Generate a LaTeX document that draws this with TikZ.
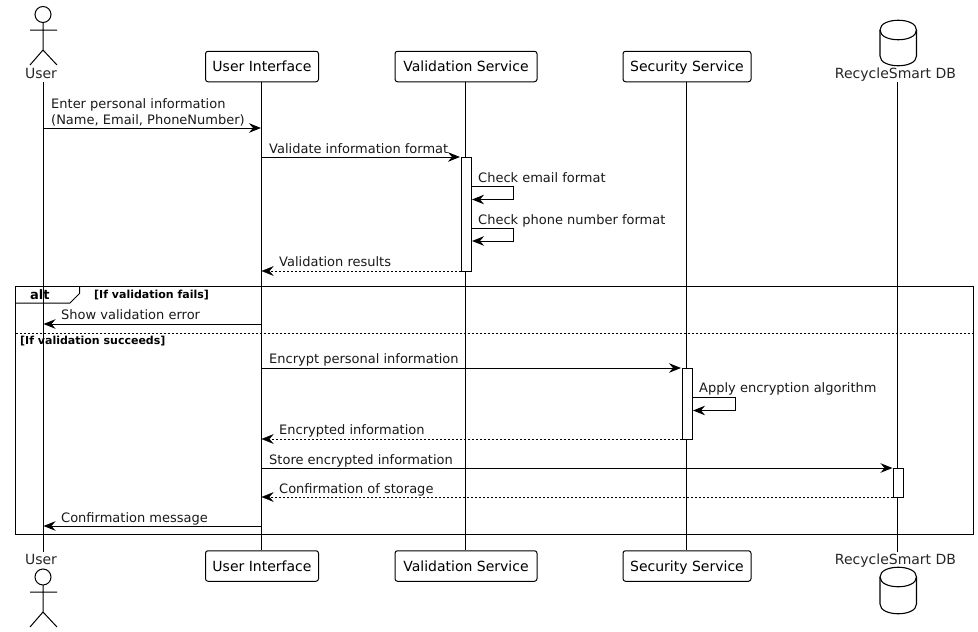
\documentclass[tikz,border=0pt]{standalone}
\usepackage{fontspec}
\setmainfont{DejaVu Sans}
\usetikzlibrary{arrows.meta,calc,positioning}
\tikzset{
  x=1pt,y=-1pt,
  base/.style={line width=1pt,draw=black},
  party/.style={base,rounded corners=2.5pt,fill=white,font=\fontsize{14}{16}\selectfont,inner sep=0pt,minimum height=30.5pt,text height=12pt,text depth=2pt,anchor=center},
  plabel/.style={font=\fontsize{14}{16}\selectfont,inner sep=0pt,text=black!85,anchor=base},
  msg/.style={font=\fontsize{13}{15}\selectfont,inner sep=0pt,anchor=base west,text=black!90},
  guard/.style={font=\fontsize{11}{13}\selectfont\bfseries,inner sep=0pt,anchor=base west},
  act/.style={base,fill=white,inner sep=0pt,minimum width=10pt},
  life/.style={base},
  call/.style={base,-{Stealth[length=12pt,width=9.5pt,inset=4pt]},shorten >=0.5pt},
  ret/.style={line width=.8pt,draw=black,dash pattern=on 2pt off 2pt,-{Stealth[length=12pt,width=9.5pt,inset=4pt,line width=.3pt]}},
}
\begin{document}
\begin{tikzpicture}
\useasboundingbox (0,0) rectangle (978,632);
% lifeline axes
\coordinate (ux) at (43,0);
\coordinate (ix) at (261.5,0);
\coordinate (vx) at (465,0);
\coordinate (sx) at (686.5,0);
\coordinate (dx) at (897.5,0);
\coordinate (lifeTop) at (0,82);
\coordinate (lifeBot) at (0,552);
% participants
\node[plabel] (userT) at (41,78.5) {User};
\node[plabel] (userB) at (41,564) {User};
\node[plabel] (dbT) at (895.5,78.5) {RecycleSmart DB};
\node[plabel] (dbB) at (895.5,564) {RecycleSmart DB};
\draw[life] (ux|-lifeTop) -- (ux|-lifeBot);
\draw[life] (dx|-lifeTop) -- (dx|-lifeBot);
\node[party,minimum width=113pt] (uiT) at (262,66.5) {User Interface};
\node[party,minimum width=113pt] (uiB) at (262,566) {User Interface};
\node[party,minimum width=142pt] (valT) at (466,66.5) {Validation Service};
\node[party,minimum width=142pt] (valB) at (466,566) {Validation Service};
\node[party,minimum width=128pt] (secT) at (687,66.5) {Security Service};
\node[party,minimum width=128pt] (secB) at (687,566) {Security Service};
\draw[life] (ix|-uiT.south) -- (ix|-uiB.north);
\draw[life] (vx|-valT.south) -- (vx|-valB.north);
\draw[life] (sx|-secT.south) -- (sx|-secB.north);
% actors
\draw[base] (43,14.5) circle[radius=8];
\draw[base] (43,22.5) -- (43,50) (30,30) -- (57,30) (30,65) -- (43,50) -- (57,65);
\draw[base] (43,577) circle[radius=8];
\draw[base] (43,585) -- (43,612) (30,592) -- (57,592) (30,627) -- (43,612) -- (57,627);
% databases
\draw[base,line width=1.1pt] (880,30) .. controls (880,17) and (916.5,17) .. (916.5,30)
  -- (916.5,56) .. controls (916.5,69) and (880,69) .. (880,56) -- cycle;
\draw[base,line width=1.1pt] (880,30) .. controls (880,43) and (916.5,43) .. (916.5,30);
\draw[base,line width=1.1pt] (880,577) .. controls (880,564) and (916.5,564) .. (916.5,577)
  -- (916.5,604) .. controls (916.5,617) and (880,617) .. (880,604) -- cycle;
\draw[base,line width=1.1pt] (880,577) .. controls (880,590) and (916.5,590) .. (916.5,577);
% frame
\draw[base] (15.5,286.5) rectangle (973,534.5);
\draw[base] (79.5,286.5) -- (79.5,293.5) -- (70,303) -- (15.5,303);
\draw[line width=.8pt,dash pattern=on 2pt off 2pt] (15.5,333) -- (973,333);
\node[font=\fontsize{13}{15}\selectfont\bfseries,inner sep=0pt,anchor=base west] (altL) at (30,299) {alt};
\node[guard] (g1) at (94,298) {[If validation fails]};
\node[guard] (g2) at (20,344) {[If validation succeeds]};
% activations
\node[act,minimum height=114pt] (a1) at (466,214) {};
\node[act,minimum height=71pt] (a2) at (687,403.5) {};
\node[act,minimum height=29pt] (a3) at (898.5,482.5) {};
% messages
\draw[call] (ux|-0,128) -- (ix|-0,128);
\node[msg] (m1a) at (51,108.5) {Enter personal information};
\node[msg] (m1b) at (51,124.5) {(Name, Email, PhoneNumber)};
\draw[call] (ix|-0,157) -- (a1.west|-0,157);
\node[msg] (m2) at (269,153.5) {Validate information format};
\draw[call] (a1.east|-0,186) -- (513.5,186) -- (513.5,199.5) -- (a1.east|-0,199.5);
\node[msg] (m3) at (478,182.5) {Check email format};
\draw[call] (a1.east|-0,228) -- (513.5,228) -- (513.5,241) -- (a1.east|-0,241);
\node[msg] (m4) at (478,224.5) {Check phone number format};
\draw[ret] (a1.west|-0,271) -- (ix|-0,271);
\node[msg] (m5) at (279,266.5) {Validation results};
\draw[call] (ix|-0,324) -- (ux|-0,324);
\node[msg] (m6) at (61,319.5) {Show validation error};
\draw[call] (ix|-0,368) -- (a2.west|-0,368);
\node[msg] (m7) at (269,363.5) {Encrypt personal information};
\draw[call] (a2.east|-0,397) -- (735,397) -- (735,410.5) -- (a2.east|-0,410.5);
\node[msg] (m8) at (699,392.5) {Apply encryption algorithm};
\draw[ret] (a2.west|-0,439) -- (ix|-0,439);
\node[msg] (m9) at (279,434.5) {Encrypted information};
\draw[call] (ix|-0,468) -- (a3.west|-0,468);
\node[msg] (m10) at (269,464.5) {Store encrypted information};
\draw[ret] (a3.west|-0,497) -- (ix|-0,497);
\node[msg] (m11) at (279,493.5) {Confirmation of storage};
\draw[call] (ix|-0,526) -- (ux|-0,526);
\node[msg] (m12) at (61,522.5) {Confirmation message};
\end{tikzpicture}
\end{document}
